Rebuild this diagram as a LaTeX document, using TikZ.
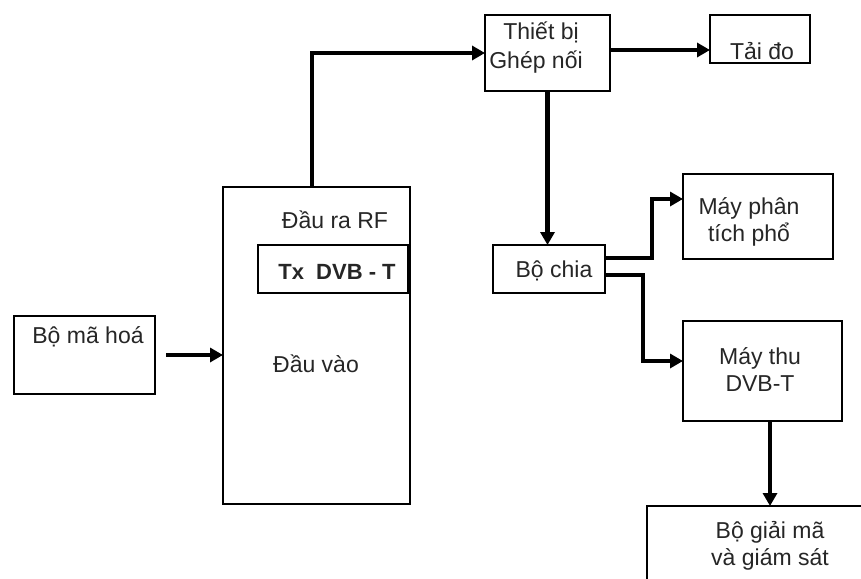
\documentclass[tikz,border=0pt]{standalone}
\usepackage{fontspec}
\setmainfont{Liberation Sans}
\usetikzlibrary{arrows.meta,calc}
\begin{document}
\begin{tikzpicture}[x=1pt,y=-1pt,
  box/.style={draw=black, line width=2pt, fill=white, anchor=north west, outer sep=0pt, inner sep=0pt},
  conn/.style={line width=4.6pt, draw=black, -{Triangle[length=13pt,width=14pt]}},
  lbl/.style={font=\fontsize{23}{27}\selectfont, text=black!85, inner sep=0pt, align=center}]
\clip (0,0) rectangle (861,578);
\fill[white] (0,0) rectangle (861,578);
% boxes
\node (enc) [box, minimum width=141pt, minimum height=78pt] at (14,316) {};
\node (tx)  [box, minimum width=187pt, minimum height=317pt] at (223,187) {};
\node (txin)[box, minimum width=150pt, minimum height=48pt] at (258,245) {};
\node (cpl) [box, minimum width=125pt, minimum height=76pt] at (485,15) {};
\node (load)[box, minimum width=100pt, minimum height=48pt] at (710,15) {};
\node (split)[box, minimum width=112pt, minimum height=48pt] at (493,245) {};
\node (an)  [box, minimum width=150pt, minimum height=85pt] at (683,174) {};
\node (rx)  [box, minimum width=159pt, minimum height=100pt] at (683,321) {};
\node (dec) [box, minimum width=260pt, minimum height=120pt] at (647,506) {};
% labels
\node (tEnc) [lbl] at (88,337) {Bộ mã hoá};
\node (tOut) [lbl] at (335,220) {Đầu ra RF};
\node (tTx)  [lbl, font=\fontsize{22}{26}\selectfont\bfseries] at (337,272) {Tx\ \ DVB - T};
\node (tIn)  [lbl] at (316,364) {Đầu vào};
\node (tCpl1)[lbl] at (541,32) {Thiết bị};
\node (tCpl2)[lbl] at (536,62) {Ghép nối};
\node (tLoad)[lbl] at (762,51) {Tải đo};
\node (tSplit)[lbl] at (554,271) {Bộ chia};
\node (tAn)  [lbl] at (749,222) {Máy phân\\tích phổ};
\node (tRx)  [lbl] at (760,370) {Máy thu\\DVB-T};
\node (tDec) [lbl] at (770,546) {Bộ giải mã\\và giám sát};
% connectors
\draw[conn] ([xshift=11pt]enc.east) -- (tx.west |- enc.east);
\coordinate (up) at (312,187);
\draw[conn] (up) |- (cpl.west);
\coordinate (cplR) at (610,50);
\draw[conn] (cplR) -- (cplR -| load.west);
\draw[conn] (cpl.south) -- (cpl.south |- split.north);
\coordinate (s1) at (605,258);
\coordinate (a1) at (652,199);
\draw[conn] (s1) -| (a1) -- (a1 -| an.west);
\coordinate (s2) at (605,275);
\coordinate (b1) at (643,361);
\draw[conn] (s2) -| (b1) -- (b1 -| rx.west);
\coordinate (rxb) at (770,421);
\draw[conn] (rxb) -- (rxb |- dec.north);
\end{tikzpicture}
\end{document}
